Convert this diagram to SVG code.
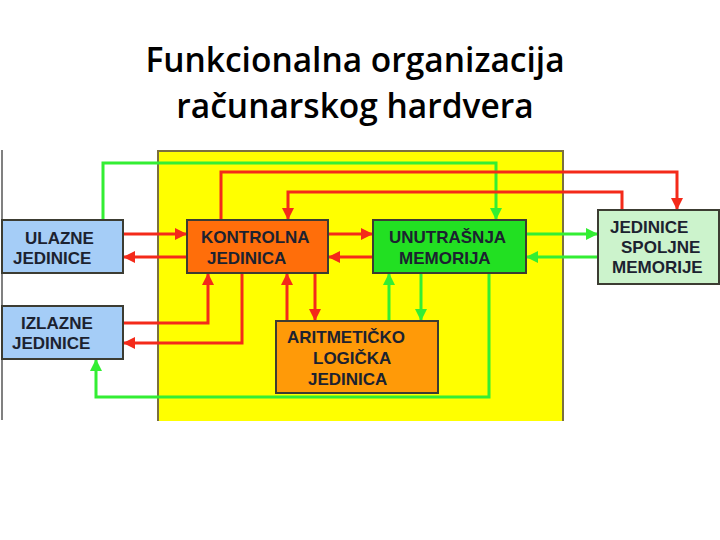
<svg xmlns="http://www.w3.org/2000/svg" width="720" height="540" viewBox="0 0 720 540">
<defs>
<style>
.title{font-family:"Open Sans","Liberation Sans",sans-serif;font-weight:600;font-size:33.5px;fill:#000;text-anchor:middle}
.box{stroke:#3c3c32;stroke-width:2}
.lbl{font-family:"Liberation Sans",Arial,sans-serif;font-weight:bold;font-size:17px;fill:#1c2230}
.r{fill:none;stroke:#f42a1a;stroke-width:3}
.g{fill:none;stroke:#33ee33;stroke-width:3}
.ra{marker-end:url(#ar)}
.ga{marker-end:url(#ag)}
</style>
<marker id="ar" viewBox="0 0 10 10" refX="10" refY="5" markerWidth="12" markerHeight="12" markerUnits="userSpaceOnUse" orient="auto"><path d="M0,0 L10,5 L0,10 z" fill="#f42a1a"/></marker>
<marker id="ag" viewBox="0 0 10 10" refX="10" refY="5" markerWidth="12" markerHeight="12" markerUnits="userSpaceOnUse" orient="auto"><path d="M0,0 L10,5 L0,10 z" fill="#33ee33"/></marker>
</defs>
<rect width="720" height="540" fill="#fff"/>
<g id="title">
<text class="title" x="355" y="72">Funkcionalna organizacija</text>
<text class="title" x="355" y="118">računarskog hardvera</text>
</g>
<g id="background">
<line x1="2" y1="150" x2="2" y2="420" stroke="#808080" stroke-width="2"/>
<rect x="158" y="151" width="405" height="270" fill="#ffff00"/>
<polyline points="158,421 158,151 563,151 563,421" fill="none" stroke="#7a7040" stroke-width="2"/>
</g>
<g id="connectors">
<path class="g ga" d="M103,220 V163 H496 V220"/>
<path class="r ra" d="M221,220 V172 H677 V210"/>
<path class="r ra" d="M622,210 V192 H288 V220"/>
<path class="r ra" d="M123,234 H187"/>
<path class="r ra" d="M187,257 H123"/>
<path class="r ra" d="M328,234 H373"/>
<path class="r ra" d="M373,257 H328"/>
<path class="g ga" d="M526,234 H598"/>
<path class="g ga" d="M598,257 H526"/>
<path class="r ra" d="M123,323 H208 V273"/>
<path class="r ra" d="M242,273 V343 H123"/>
<path class="r ra" d="M287,321 V273"/>
<path class="r ra" d="M315,273 V321"/>
<path class="g ga" d="M389,321 V273"/>
<path class="g ga" d="M421,273 V321"/>
<path class="g ga" d="M489,273 V397 H96 V359"/>
</g>
<g id="ulazne">
<rect class="box" x="2" y="220" width="121" height="53" fill="#a5cdf7"/>
<text class="lbl" x="25" y="244">ULAZNE</text>
<text class="lbl" x="13" y="264">JEDINICE</text>
</g>
<g id="izlazne">
<rect class="box" x="2" y="306" width="121" height="53" fill="#a5cdf7"/>
<text class="lbl" x="21" y="329">IZLAZNE</text>
<text class="lbl" x="12" y="349">JEDINICE</text>
</g>
<g id="kontrolna">
<rect class="box" x="187" y="220" width="141" height="53" fill="#ff6e0a"/>
<text class="lbl" x="201" y="243">KONTROLNA</text>
<text class="lbl" x="207" y="264">JEDINICA</text>
</g>
<g id="unutrasnja">
<rect class="box" x="373" y="220" width="153" height="53" fill="#22e022"/>
<text class="lbl" x="389" y="243">UNUTRAŠNJA</text>
<text class="lbl" x="399" y="264">MEMORIJA</text>
</g>
<g id="spoljne">
<rect class="box" x="598" y="210" width="121" height="74" fill="#ccf3cc"/>
<text class="lbl" x="610" y="233">JEDINICE</text>
<text class="lbl" x="621" y="253">SPOLJNE</text>
<text class="lbl" x="612" y="273">MEMORIJE</text>
</g>
<g id="alu">
<rect class="box" x="276" y="321" width="162" height="72" fill="#ff9a08"/>
<text class="lbl" x="287" y="343">ARITMETIČKO</text>
<text class="lbl" x="313" y="364">LOGIČKA</text>
<text class="lbl" x="308" y="385">JEDINICA</text>
</g>
</svg>
